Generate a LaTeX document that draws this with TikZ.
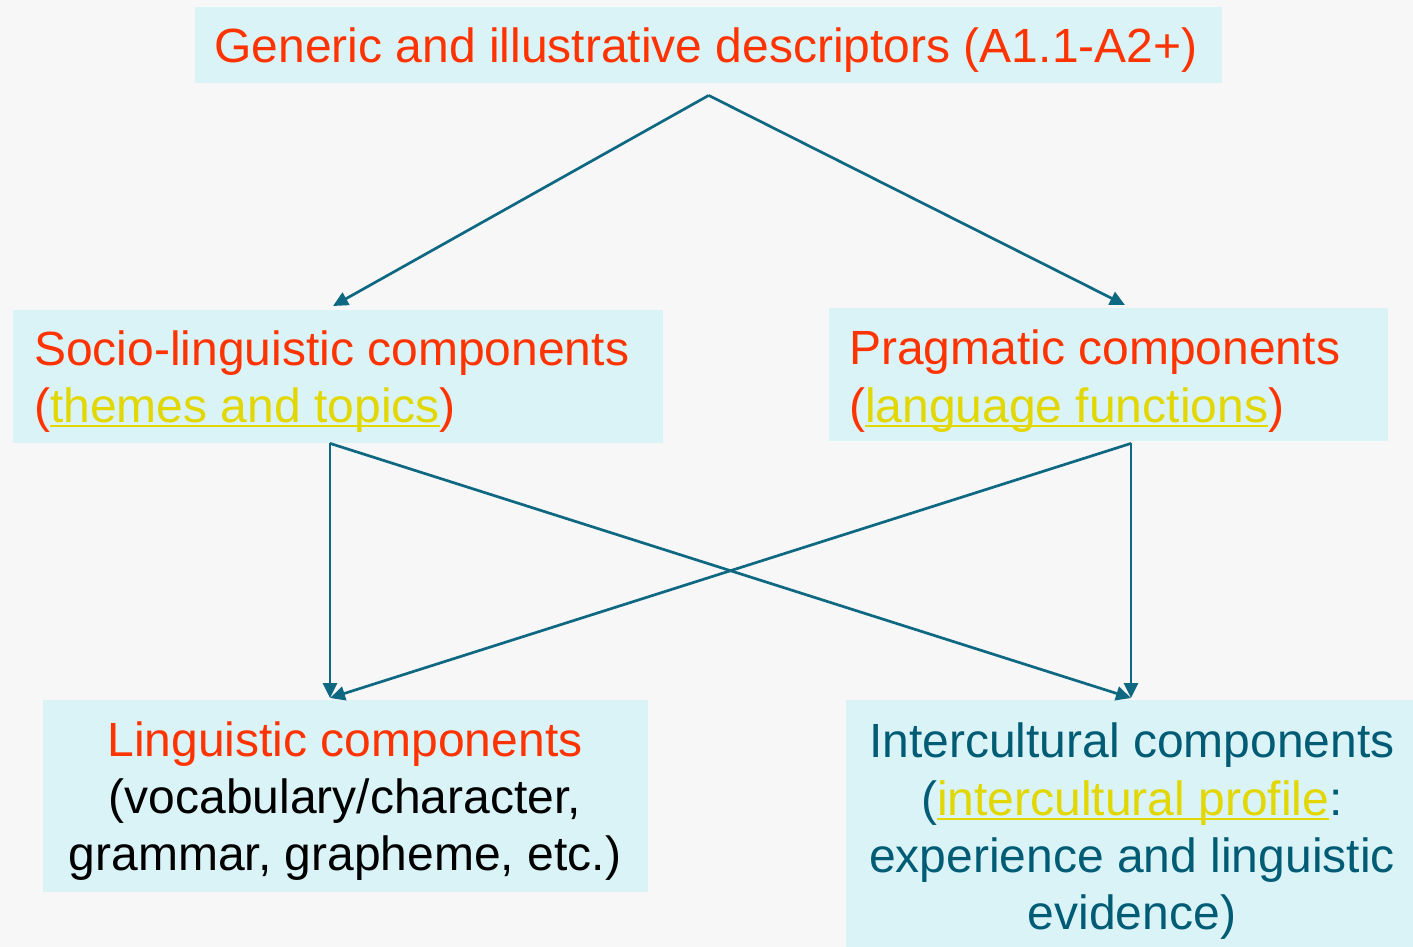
\documentclass[tikz,border=0pt]{standalone}
\usepackage{fontspec}
\setmainfont{Liberation Sans}
\usetikzlibrary{arrows.meta,calc}
\definecolor{bgc}{HTML}{F7F7F7}
\definecolor{boxfill}{HTML}{DAF3F7}
\definecolor{redt}{HTML}{FF3300}
\definecolor{tealt}{HTML}{005C75}
\definecolor{arrowc}{HTML}{0E6882}
\definecolor{linky}{HTML}{E2D700}
\newcommand\ylink[1]{{\color{linky}\setbox0\hbox{#1}\rlap{\rule[-4.5pt]{\wd0}{1.8pt}}\box0}}
\begin{document}
\begin{tikzpicture}[x=1pt,y=-1pt,
  box/.style={fill=boxfill, draw=none, inner sep=0pt, anchor=north west},
  txt/.style={inner sep=0pt, anchor=base, font=\fontsize{48}{57.6}\selectfont},
  txtl/.style={txt, anchor=base west},
  conn/.style={draw=arrowc, line width=2.7pt, -{Triangle[length=15pt,width=14pt]}}]
\fill[bgc] (0,0) rectangle (1413,947);
\useasboundingbox (0,0) rectangle (1413,947);
% boxes
\node[box, minimum width=1027pt, minimum height=76pt] (top) at (195,7) {};
\node[box, minimum width=650pt, minimum height=133pt] (soc) at (13,310) {};
\node[box, minimum width=559pt, minimum height=133pt] (prag) at (829,308) {};
\node[box, minimum width=605pt, minimum height=192pt] (ling) at (43,700) {};
\node[box, minimum width=567pt, minimum height=247pt] (inter) at (846,700) {};
% texts
\node[txt, text=redt] (toptxt) at (706,63) {Generic and illustrative descriptors (A1.1-A2+)};
\node[txtl, text=redt] (soc1) at (34,365) {Socio-linguistic components};
\node[txtl, text=redt] (soc2) at (34,422) {(\ylink{themes and topics})};
\node[txtl, text=redt] (prag1) at (849,364) {Pragmatic components};
\node[txtl, text=redt] (prag2) at (849,422) {(\ylink{language functions})};
\node[txt, text=redt] (ling1) at (345,756) {Linguistic components};
\node[txt, text=black] (ling2) at (345,813) {(vocabulary/character,};
\node[txt, text=black] (ling3) at (345,870) {grammar, grapheme, etc.)};
\node[txt, text=tealt] (int1) at (1132,757) {Intercultural components};
\node[txt, text=tealt] (int2) at (1132,815) {(\ylink{intercultural profile}:};
\node[txt, text=tealt] (int3) at (1132,872) {experience and linguistic};
\node[txt, text=tealt] (int4) at (1132,929) {evidence)};
% connector ends
\coordinate (topout) at ($(top.south)+(0,12)$);
\coordinate (socin) at ($(soc.north west)+(320,-4)$);
\coordinate (pragin) at ($(prag.north west)+(296,-3)$);
\coordinate (socout) at ($(soc.south west)+(317,0)$);
\coordinate (pragout) at ($(prag.south west)+(302,2)$);
\coordinate (lingin) at ($(ling.north west)+(287,-2)$);
\coordinate (interin) at ($(inter.north west)+(285,-2)$);
% connectors
\draw[conn] (topout) -- (socin);
\draw[conn] (topout) -- (pragin);
\draw[conn] (socout) -- (lingin);
\draw[conn] (socout) -- (interin);
\draw[conn] (pragout) -- (interin);
\draw[conn] (pragout) -- (lingin);
\end{tikzpicture}
\end{document}
